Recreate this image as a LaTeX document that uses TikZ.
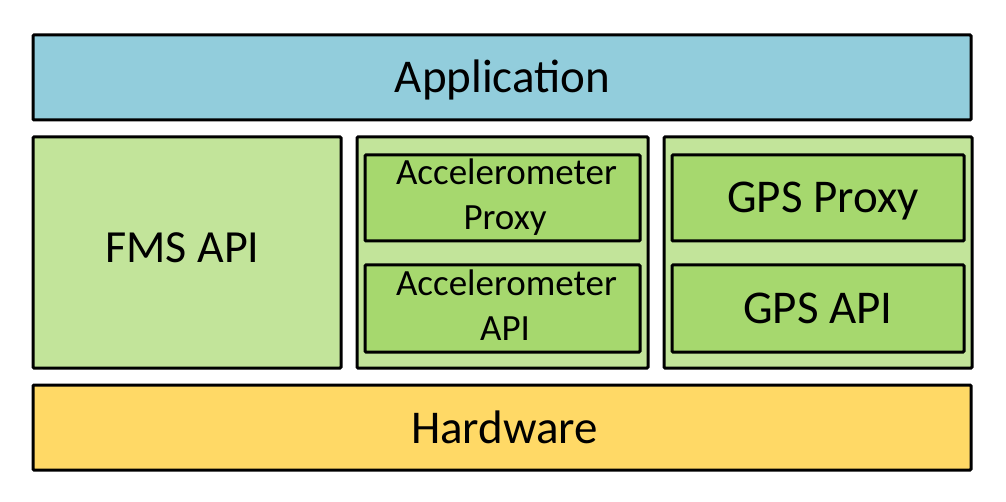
\documentclass[tikz,border=0pt]{standalone}
\usepackage{fontspec}
\setmainfont{Carlito}
\definecolor{appblue}{HTML}{92CDDC}
\definecolor{lightgreen}{HTML}{C2E49A}
\definecolor{midgreen}{HTML}{A6D86E}
\definecolor{hwyellow}{HTML}{FFD966}
\begin{document}
\begin{tikzpicture}[x=1pt,y=-1pt,
  layer/.style={draw=black,line width=3pt,rounded corners=1pt},
  lbl/.style={inner sep=0pt,anchor=base},
  big/.style={lbl,font=\fontsize{47}{52}\selectfont},
  small/.style={lbl,font=\fontsize{37}{45}\selectfont}]
\useasboundingbox (0,0) rectangle (1006,502);
\fill[white] (0,0) rectangle (1006,502);
% Application
\draw[layer,fill=appblue] (33,35) rectangle (971,120);
\node[big] (app) at (502.5,93) {Application};
% FMS
\draw[layer,fill=lightgreen] (33,137) rectangle (341,368);
\node[lbl,font=\fontsize{46}{50}\selectfont] (fms) at (182.5,263) {FMS API};
% Accelerometer group
\draw[layer,fill=lightgreen] (357,137) rectangle (648,368);
\draw[layer,fill=midgreen] (365,155) rectangle (640,241);
\node[small] (accp1) at (506.5,185) {Accelerometer};
\node[small] (accp2) at (505,230) {Proxy};
\draw[layer,fill=midgreen] (365,265) rectangle (640,352);
\node[small] (acca1) at (506.5,296) {Accelerometer};
\node[small] (acca2) at (505,341) {API};
% GPS group
\draw[layer,fill=lightgreen] (664,137) rectangle (972,368);
\draw[layer,fill=midgreen] (672,155) rectangle (964,241);
\node[big] (gpsp) at (823,213) {GPS Proxy};
\draw[layer,fill=midgreen] (672,265) rectangle (964,352);
\node[big] (gpsa) at (818,324) {GPS API};
% Hardware
\draw[layer,fill=hwyellow] (33,385) rectangle (971,470);
\node[big] (hw) at (504.5,443) {Hardware};
\end{tikzpicture}
\end{document}
